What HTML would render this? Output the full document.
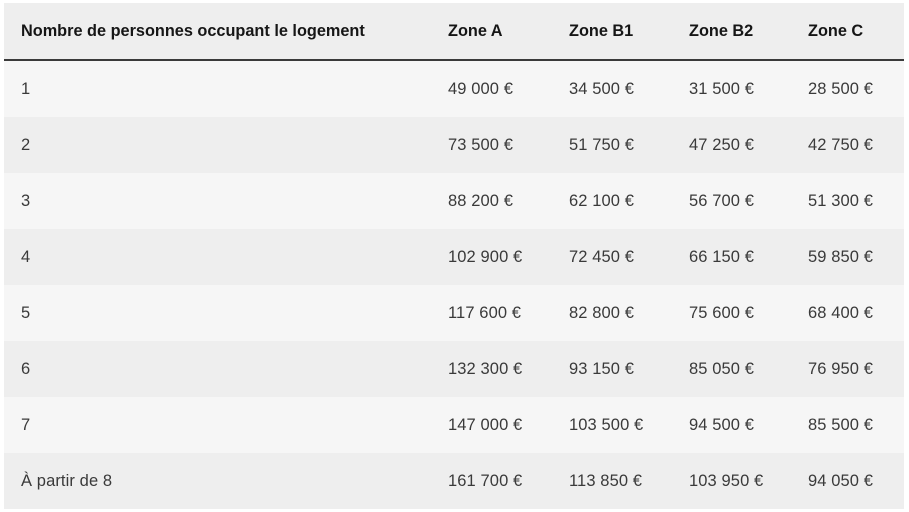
<!DOCTYPE html>
<html><head><meta charset="utf-8"><style>
body{margin:0;width:909px;height:512px;background:#fff;font-family:"Liberation Sans",sans-serif;color:#3a3a3a;position:relative;overflow:hidden}
.r{position:absolute;left:4px;width:900px;height:56px}
.r span{position:absolute;top:0;line-height:56px;font-size:16.5px;white-space:nowrap;letter-spacing:0.1px}
.h span{font-weight:bold;color:#161616;font-size:16.3px;letter-spacing:0}
.c0{left:17px}.c1{left:444px}.c2{left:565px}.c3{left:685px}.c4{left:804px}
</style></head><body>
<div class="r h" style="top:3px;background:#eeeeee"><span class="c0">Nombre de personnes occupant le logement</span><span class="c1">Zone A</span><span class="c2">Zone B1</span><span class="c3">Zone B2</span><span class="c4">Zone C</span></div>
<div style="position:absolute;left:4px;top:59px;width:900px;height:2px;background:#3a3a3a"></div>
<div class="r" style="top:61px;background:#f6f6f6"><span class="c0">1</span><span class="c1">49 000 €</span><span class="c2">34 500 €</span><span class="c3">31 500 €</span><span class="c4">28 500 €</span></div>
<div class="r" style="top:117px;background:#eeeeee"><span class="c0">2</span><span class="c1">73 500 €</span><span class="c2">51 750 €</span><span class="c3">47 250 €</span><span class="c4">42 750 €</span></div>
<div class="r" style="top:173px;background:#f6f6f6"><span class="c0">3</span><span class="c1">88 200 €</span><span class="c2">62 100 €</span><span class="c3">56 700 €</span><span class="c4">51 300 €</span></div>
<div class="r" style="top:229px;background:#eeeeee"><span class="c0">4</span><span class="c1">102 900 €</span><span class="c2">72 450 €</span><span class="c3">66 150 €</span><span class="c4">59 850 €</span></div>
<div class="r" style="top:285px;background:#f6f6f6"><span class="c0">5</span><span class="c1">117 600 €</span><span class="c2">82 800 €</span><span class="c3">75 600 €</span><span class="c4">68 400 €</span></div>
<div class="r" style="top:341px;background:#eeeeee"><span class="c0">6</span><span class="c1">132 300 €</span><span class="c2">93 150 €</span><span class="c3">85 050 €</span><span class="c4">76 950 €</span></div>
<div class="r" style="top:397px;background:#f6f6f6"><span class="c0">7</span><span class="c1">147 000 €</span><span class="c2">103 500 €</span><span class="c3">94 500 €</span><span class="c4">85 500 €</span></div>
<div class="r" style="top:453px;background:#eeeeee"><span class="c0">À partir de 8</span><span class="c1">161 700 €</span><span class="c2">113 850 €</span><span class="c3">103 950 €</span><span class="c4">94 050 €</span></div>
</body></html>
